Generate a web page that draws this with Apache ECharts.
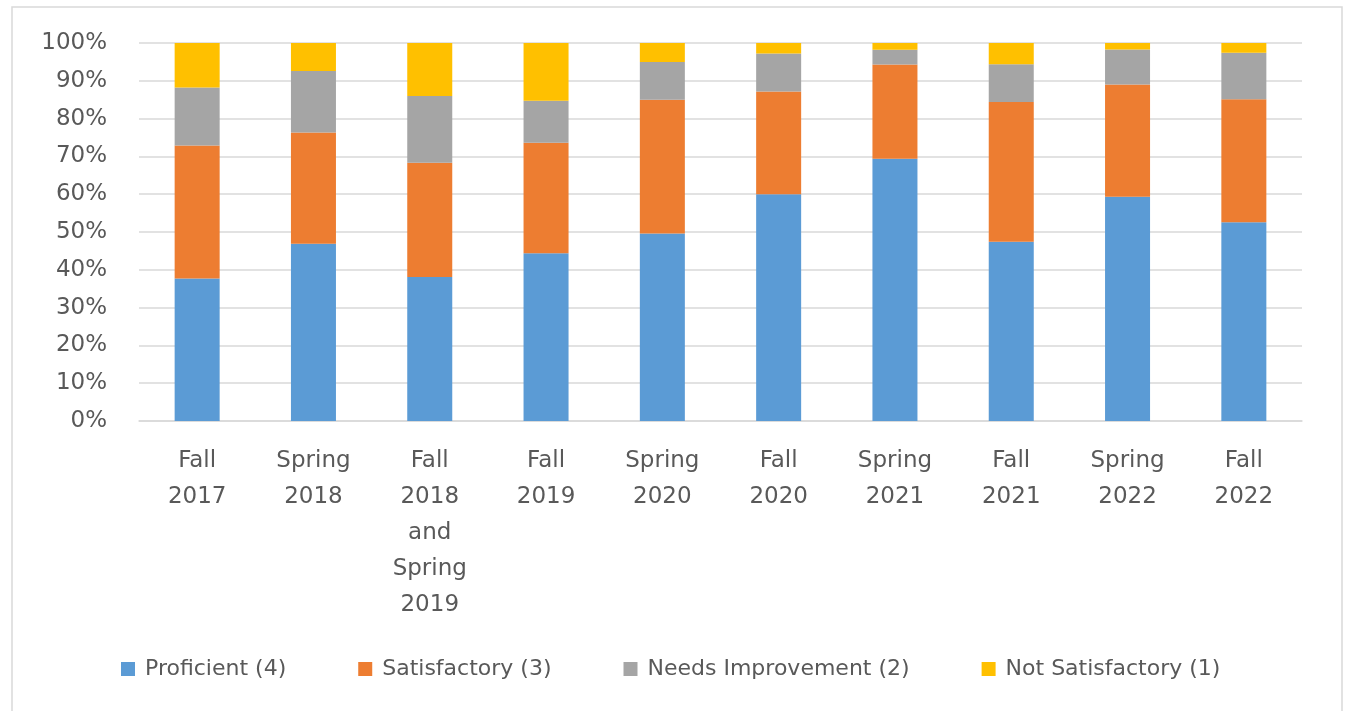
<!DOCTYPE html>
<html>
<head>
<meta charset="utf-8">
<style>
html,body{margin:0;padding:0;background:#fff;}
#chart{width:1348px;height:711px;}
</style>
<script src="https://cdn.jsdelivr.net/npm/echarts@6/dist/echarts.min.js"></script>
</head>
<body>
<div id="chart"></div>
<script>
const categories = ["Fall\n2017","Spring\n2018","Fall\n2018\nand\nSpring\n2019","Fall\n2019","Spring\n2020","Fall\n2020","Spring\n2021","Fall\n2021","Spring\n2022","Fall\n2022"];
const proficient = [37.7, 46.9, 38.1, 44.4, 49.6, 60.0, 69.4, 47.4, 59.3, 52.6];
const satisfactory = [35.2, 29.4, 30.2, 29.2, 35.4, 27.2, 24.9, 37.0, 29.7, 32.5];
const needsImprovement = [15.3, 16.3, 17.7, 11.1, 10.0, 10.0, 3.9, 10.0, 9.3, 12.3];
const notSatisfactory = [11.8, 7.4, 14.0, 15.3, 5.0, 2.8, 1.8, 5.6, 1.7, 2.6];
const seriesNames = ["Proficient (4)", "Satisfactory (3)", "Needs Improvement (2)", "Not Satisfactory (1)"];

const chart = echarts.init(document.getElementById('chart'));
const textColor = '#595959';
const font = '"DejaVu Sans", "Open Sans", sans-serif';
function mk(name, data, color) {
  return { name: name, type: 'bar', stack: 'total', data: data, barWidth: '38.7%', itemStyle: { color: color }, emphasis: { disabled: true } };
}
chart.setOption({
  animation: false,
  textStyle: { fontFamily: font },
  graphic: [{
    type: 'rect', shape: { x: 12, y: 7, width: 1330, height: 720 },
    style: { fill: 'none', stroke: '#d9d9d9', lineWidth: 1.5 }, silent: true, z: -10
  }],
  grid: { left: 139, right: 46, top: 43, bottom: 290, containLabel: false },
  legend: {
    top: 653, left: 116, itemWidth: 14, itemHeight: 14, itemGap: 72,
    icon: 'rect',
    textStyle: { color: textColor, fontSize: 22, fontFamily: font, padding: [0, 0, 0, 5] },
    data: seriesNames
  },
  xAxis: {
    type: 'category', data: categories,
    axisLine: { show: true, lineStyle: { color: '#d9d9d9', width: 1.5 } },
    axisTick: { show: false },
    axisLabel: { color: textColor, fontSize: 23, lineHeight: 36, margin: 22, interval: 0, fontFamily: font }
  },
  yAxis: {
    type: 'value', min: 0, max: 100, interval: 10,
    axisLine: { show: false }, axisTick: { show: false },
    splitLine: { lineStyle: { color: '#d9d9d9', width: 1.5 } },
    axisLabel: { color: textColor, fontSize: 23, margin: 32, formatter: '{value}%', fontFamily: font }
  },
  series: [
    mk(seriesNames[0], proficient, '#5B9BD5'),
    mk(seriesNames[1], satisfactory, '#ED7D31'),
    mk(seriesNames[2], needsImprovement, '#A5A5A5'),
    mk(seriesNames[3], notSatisfactory, '#FFC000')
  ]
});
</script>
</body>
</html>
